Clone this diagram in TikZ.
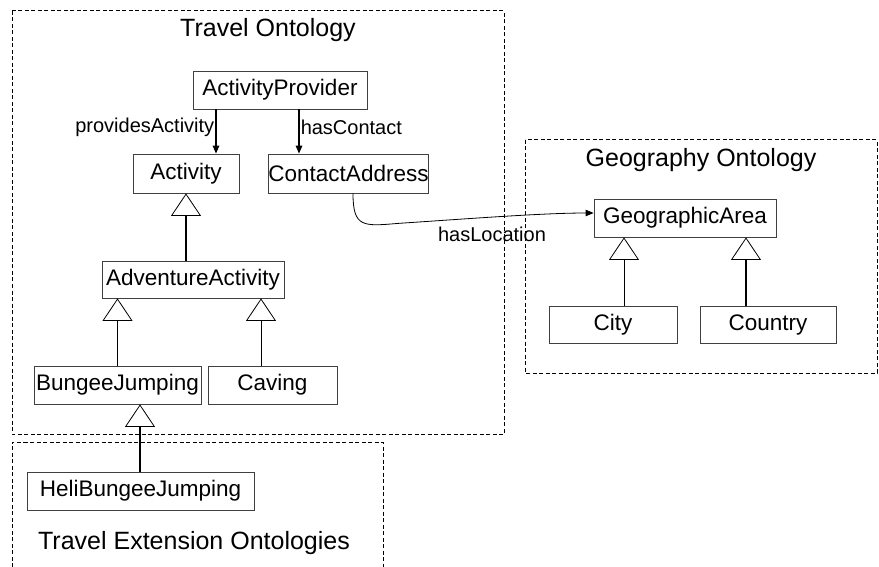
\documentclass[tikz,border=0pt]{standalone}
\usepackage{fontspec}
\setmainfont{Liberation Sans}
\usetikzlibrary{arrows.meta,calc}
\begin{document}
\begin{tikzpicture}[x=1pt,y=-1pt,
  cls/.style={draw=black!75, line width=0.8pt, fill=white, inner sep=0pt, font=\fontsize{22.5}{24}\selectfont},
  lbl/.style={inner sep=1pt, font=\fontsize{20}{22}\selectfont},
  ttl/.style={inner sep=0pt, font=\fontsize{25}{27}\selectfont},
  group/.style={draw=black, line width=1pt, dash pattern=on 4pt off 2.5pt},
  isa/.style={-{Triangle[open, length=22.5pt, width=30pt, line width=0.8pt]}},
  isathick/.style={isa, line width=1.7pt},
  isathin/.style={isa, line width=0.8pt},
  rel/.style={-{Triangle[length=8pt, width=6.5pt]}, line width=1.5pt},
  relthin/.style={-{Triangle[length=8pt, width=6.5pt]}, line width=0.8pt}
]
\useasboundingbox (0,0) rectangle (879,567);
\fill[white] (0,0) rectangle (879,567);

% group boxes
\draw[group] (12,11) rectangle (504,434);
\draw[group] (12,567) -- (12,442) -- (383,442) -- (383,567);
\draw[group] (525,140) rectangle (877,373);

% titles
\node[ttl] (t1) at (268,30) {Travel Ontology};
\node[ttl] (t2) at (701,160) {Geography Ontology};
\node[ttl] (t3) at (194,543) {Travel Extension Ontologies};

% classes
\node[cls, minimum width=174pt, minimum height=38pt] (ap) at (280,90) {ActivityProvider};
\node[cls, minimum width=106pt, minimum height=39pt] (act) at (186,173.5) {Activity};
\node[cls, minimum width=159pt, minimum height=39pt] (ca) at (348.5,173.5) {ContactAddress};
\node[cls, minimum width=182pt, minimum height=37pt] (adv) at (193,279.5) {AdventureActivity};
\node[cls, minimum width=167pt, minimum height=38pt] (bj) at (117.5,385) {BungeeJumping};
\node[cls, minimum width=129pt, minimum height=38pt] (cav) at (272.5,385) {Caving};
\node[cls, minimum width=227pt, minimum height=38pt] (heli) at (140.5,491) {HeliBungeeJumping};
\node[cls, minimum width=182pt, minimum height=38pt] (ga) at (685,218) {GeographicArea};
\node[cls, minimum width=128pt, minimum height=37pt] (city) at (613,324.5) {City};
\node[cls, minimum width=136pt, minimum height=37pt] (country) at (768,324.5) {Country};

% relations
\coordinate (pa) at ($(act.north)+(30,0)$);
\draw[rel] (pa |- ap.south) -- node[lbl, anchor=east, pos=0.4] (lpa) {providesActivity} (pa);
\coordinate (hc) at ($(ca.north)+(-49.5,0)$);
\draw[rel] (hc |- ap.south) -- node[lbl, anchor=west, pos=0.4] (lhc) {hasContact} (hc);
\coordinate (hl) at ($(ca.south)+(4.5,0)$);
\coordinate (gaw) at ($(ga.west)+(0,-5)$);
\draw[relthin] (hl) .. controls ($(hl)+(0,34)$) and ($(hl)+(10,33)$) .. ($(hl)+(45,30)$)
   .. controls ($(hl)+(120,25)$) and ($(gaw)+(-50,0)$) .. (gaw);
\node[lbl] (lhl) at (492,234) {hasLocation};

% subclass links
\draw[isathick] (act.south |- adv.north) -- (act.south);
\draw[isathick] (bj.north) -- (bj.north |- adv.south);
\coordinate (cv) at ($(cav.north)+(-11.5,0)$);
\draw[isathin] (cv) -- (cv |- adv.south);
\coordinate (hb) at ($(heli.north)+(-0.5,0)$);
\draw[isathick] (hb) -- (hb |- bj.south);
\coordinate (cy) at ($(city.north)+(11,0)$);
\draw[isathin] (cy) -- (cy |- ga.south);
\coordinate (co) at ($(country.north)+(-22,0)$);
\draw[isathick] (co) -- (co |- ga.south);
\end{tikzpicture}
\end{document}
